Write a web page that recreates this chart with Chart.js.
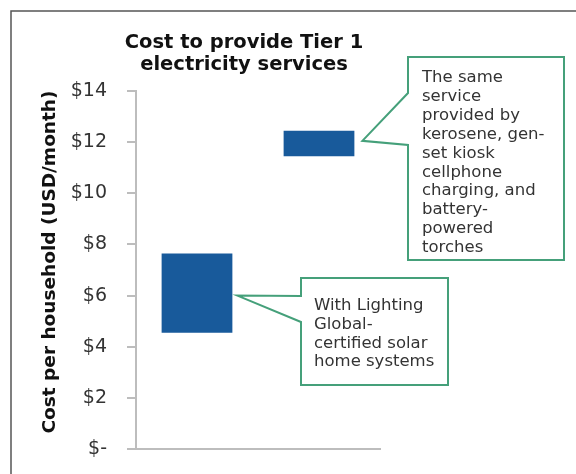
<!DOCTYPE html>
<html>
<head>
<meta charset="utf-8">
<script src="https://cdn.jsdelivr.net/npm/chart.js@4.4.1/dist/chart.umd.min.js"></script>
<style>
    html, body { margin: 0; padding: 0; background: #fff; }
    #wrap { width: 576px; height: 474px; }
</style>
</head>
<body>
<div id="wrap"><canvas id="cost-chart"></canvas></div>
<script>
const categories = ['Solar home systems', 'Kerosene, gen-set kiosk, torches'];
const costLow = [4.55, 11.45];
const costHigh = [7.65, 12.45];
const yTicks = [0, 2, 4, 6, 8, 10, 12, 14];

const titleLines = ['Cost to provide Tier 1', 'electricity services'];
const yTitle = 'Cost per household (USD/month)';
const calloutSame = ['The same', 'service', 'provided by', 'kerosene, gen-', 'set kiosk', 'cellphone', 'charging, and', 'battery-', 'powered', 'torches'];
const calloutSolar = ['With Lighting', 'Global-', 'certified solar', 'home systems'];

const FONT = '"DejaVu Sans", sans-serif';
const BLUE = '#185a9b';
const GREEN = '#45a07a';
const AXIS = '#bdbdbd';

const ranges = costLow.map((low, i) => [low, costHigh[i]]);

// callout: box + pointer wedge drawn as one outline
function drawCallout(ctx, box, tip, lines) {
    ctx.save();
    ctx.beginPath();
    ctx.moveTo(box.x, box.y);
    ctx.lineTo(box.x + box.w, box.y);
    ctx.lineTo(box.x + box.w, box.y + box.h);
    ctx.lineTo(box.x, box.y + box.h);
    ctx.lineTo(box.x, box.baseLow);
    ctx.lineTo(tip.x, tip.y);
    ctx.lineTo(box.x, box.baseHigh);
    ctx.closePath();
    ctx.fillStyle = '#fff';
    ctx.fill();
    ctx.strokeStyle = GREEN;
    ctx.lineWidth = 2;
    ctx.stroke();

    ctx.fillStyle = '#333';
    ctx.font = '16.5px ' + FONT;
    ctx.textAlign = 'left';
    ctx.textBaseline = 'alphabetic';
    lines.forEach((line, i) => {
        ctx.fillText(line, box.textX, box.textY + i * box.lh);
    });
    ctx.restore();
}

const decorPlugin = {
    id: 'decor',
    beforeDraw(chart) {
        const ctx = chart.ctx;
        ctx.save();
        ctx.fillStyle = '#fff';
        ctx.fillRect(0, 0, chart.width, chart.height);
        // picture frame (left + top only, rest is cropped)
        ctx.strokeStyle = '#555';
        ctx.lineWidth = 1.5;
        ctx.beginPath();
        ctx.moveTo(11, chart.height);
        ctx.lineTo(11, 11);
        ctx.lineTo(chart.width, 11);
        ctx.stroke();
        ctx.restore();
    },
    afterDraw(chart) {
        const ctx = chart.ctx;
        const y = chart.scales.y;
        const meta = chart.getDatasetMeta(0);

        ctx.save();
        ctx.fillStyle = '#111';
        ctx.font = 'bold 19.5px ' + FONT;
        ctx.textAlign = 'center';
        ctx.textBaseline = 'alphabetic';
        ctx.fillText(titleLines[0], 244, 48);
        ctx.fillText(titleLines[1], 244, 70);

        ctx.translate(50, 262);
        ctx.rotate(-Math.PI / 2);
        ctx.font = 'bold 18.5px ' + FONT;
        ctx.textBaseline = 'middle';
        ctx.fillText(yTitle, 0, 0);
        ctx.restore();

        const bar0 = meta.data[0];
        const bar1 = meta.data[1];
        drawCallout(ctx,
            { x: 301, y: 278, w: 147, h: 107, baseHigh: 296, baseLow: 322, textX: 314, textY: 310, lh: 18.8 },
            { x: bar0.x + bar0.width / 2 + 5, y: y.getPixelForValue(6.0) },
            calloutSolar);
        drawCallout(ctx,
            { x: 408, y: 57, w: 156, h: 203, baseHigh: 93, baseLow: 145, textX: 422, textY: 82, lh: 18.9 },
            { x: bar1.x + bar1.width / 2 + 8, y: y.getPixelForValue(12.05) },
            calloutSame);
    }
};

const costChart = new Chart(document.getElementById('cost-chart'), { // eslint-disable-line
    type: 'bar',
    data: {
        labels: categories,
        datasets: [{
            label: 'Cost range',
            data: ranges,
            backgroundColor: BLUE,
            borderWidth: 0,
            categoryPercentage: 1,
            barPercentage: 0.58
        }]
    },
    options: {
        responsive: true,
        maintainAspectRatio: false,
        animation: false,
        layout: {
            padding: { left: 0, right: 196, top: 91, bottom: 25 }
        },
        plugins: {
            legend: { display: false },
            title: { display: false },
            tooltip: { enabled: false }
        },
        scales: {
            x: {
                ticks: { display: false },
                grid: { display: false },
                border: { color: AXIS, width: 2 },
                afterFit: (scale) => { scale.height = 0; }
            },
            y: {
                min: 0,
                max: 14,
                afterBuildTicks: (scale) => { scale.ticks = yTicks.map(v => ({ value: v })); },
                ticks: {
                    padding: 20,
                    color: '#333',
                    font: { family: FONT, size: 19 },
                    callback: (v) => (v === 0 ? '$-' : '$' + v)
                },
                grid: {
                    drawOnChartArea: false,
                    tickLength: 9,
                    color: AXIS,
                    lineWidth: 2
                },
                border: { color: AXIS, width: 2 },
                afterFit: (scale) => {
                    scale.width = 136;
                    // tick padding should not push the plot area up from the bottom
                    scale.paddingTop = 12;
                    scale.paddingBottom = 12;
                }
            }
        }
    },
    plugins: [decorPlugin]
});
</script>
</body>
</html>
